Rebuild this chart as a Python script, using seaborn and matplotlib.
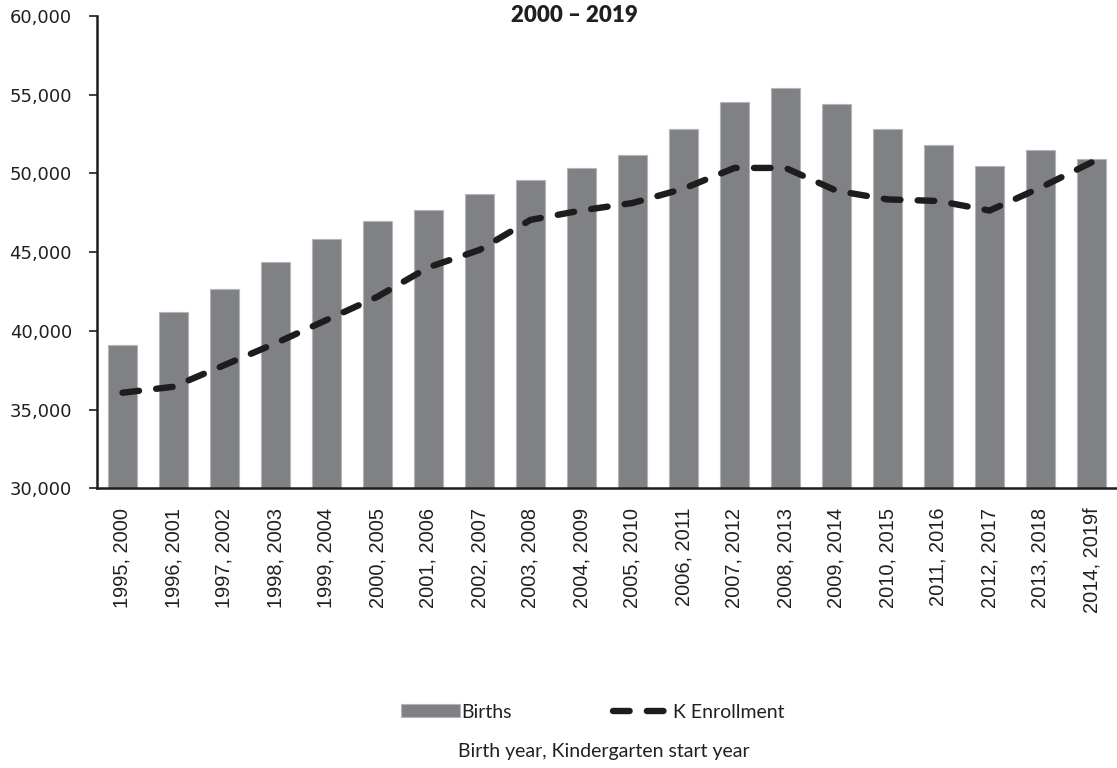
import matplotlib
matplotlib.use("Agg")
import matplotlib.pyplot as plt
import seaborn as sns
import pandas as pd
from matplotlib.ticker import FuncFormatter, MultipleLocator

# Birth year, kindergarten start year
year_labels = [
    "1995, 2000", "1996, 2001", "1997, 2002", "1998, 2003", "1999, 2004",
    "2000, 2005", "2001, 2006", "2002, 2007", "2003, 2008", "2004, 2009",
    "2005, 2010", "2006, 2011", "2007, 2012", "2008, 2013", "2009, 2014",
    "2010, 2015", "2011, 2016", "2012, 2017", "2013, 2018", "2014, 2019f",
]
births = [39100, 41180, 42660, 44400, 45840, 46960, 47680, 48720, 49590, 50350,
          51200, 52820, 54510, 55400, 54430, 52800, 51790, 50500, 51500, 50900]
k_enrollment = [36070, 36450, 37830, 39210, 40690, 42170, 44040, 45140, 47050, 47650,
                48120, 49030, 50350, 50350, 48900, 48350, 48250, 47640, 49100, 50700]

title_text = "2000 \u2013 2019"
x_title = "Birth year, Kindergarten start year"

df = pd.DataFrame({"year": year_labels, "Births": births, "K Enrollment": k_enrollment})

sns.set_theme(style="white")
plt.rcParams["font.family"] = ["DejaVu Sans"]

W, H = 1117, 768
fig = plt.figure(figsize=(W / 100, H / 100), dpi=100)
ax = fig.add_axes([97 / W, 1 - 488.3 / H, 1020 / W, (488.3 - 16) / H])

sns.barplot(data=df, x="year", y="Births", color="#808185", width=0.57,
            edgecolor="#b4b5b8", linewidth=0.8, saturation=1, ax=ax, label="Births")
sns.lineplot(data=df, x="year", y="K Enrollment", sort=False, color="#1f1c1d",
             linewidth=4.6, ax=ax, label="K Enrollment")
line = ax.lines[-1]
line.set_dashes((2.6, 2.7))
line.set_dash_capstyle("round")
line.set_solid_capstyle("round")

ax.set_xlim(-0.5, len(year_labels) - 0.5)
ax.set_ylim(30000, 60000)
ax.yaxis.set_major_locator(MultipleLocator(5000))
ax.yaxis.set_major_formatter(FuncFormatter(lambda v, p: f"{int(v):,}"))
ax.set_xlabel("")
ax.set_ylabel("")

for side in ("top", "right"):
    ax.spines[side].set_visible(False)
for side in ("left", "bottom"):
    ax.spines[side].set_color("#1f1c1d")
    ax.spines[side].set_linewidth(1.8)

ax.tick_params(axis="y", which="major", left=True, length=6, width=1.2,
               color="#1f1c1d", labelsize=13, labelcolor="#231f20", pad=12)
ax.tick_params(axis="x", which="major", bottom=False, length=0, pad=14)
for lbl in ax.get_xticklabels():
    lbl.set_rotation(90)
    lbl.set_fontfamily("Liberation Sans")
    lbl.set_fontsize(14.4)
    lbl.set_color("#231f20")
    lbl.set_va("top")
    lbl.set_ha("center")

if ax.legend_ is not None:
    ax.legend_.remove()
handles, labels = ax.get_legend_handles_labels()
order = [labels.index("Births"), labels.index("K Enrollment")]
leg = fig.legend([handles[i] for i in order], [labels[i] for i in order],
                 loc="center", bbox_to_anchor=(593 / W, 1 - 712 / H),
                 ncol=2, frameon=False, handlelength=3.0, handleheight=0.6,
                 handletextpad=0.1, columnspacing=5.2,
                 prop={"family": "Lato", "size": 14})
for t in leg.get_texts():
    t.set_color("#231f20")

fig.text(574 / W, 1 - 16 / H, title_text, ha="center", va="center",
         fontfamily="Lato", fontweight="heavy", fontsize=16, color="#231f20")
fig.text(604 / W, 1 - 752 / H, x_title, ha="center", va="center",
         fontfamily="Lato", fontsize=14, color="#231f20")

fig.savefig("out.png", dpi=100)
